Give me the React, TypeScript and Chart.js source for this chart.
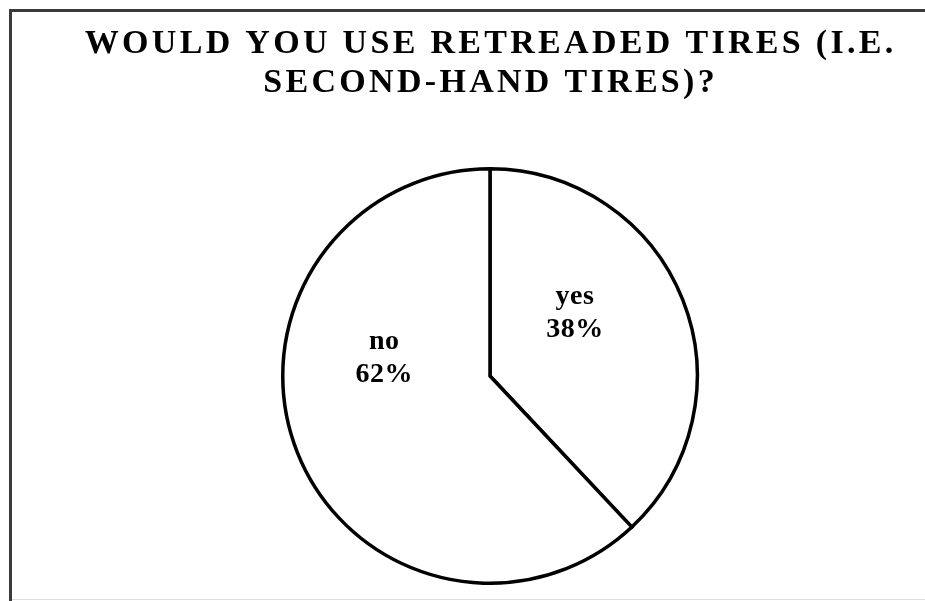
import React, { useEffect, useRef } from "react";
import { Chart, registerables } from "chart.js";

Chart.register(...registerables);

// Survey answers
const categories = ["yes", "no"];
const shares = [38, 62];
const titleLines = ["WOULD YOU USE RETREADED TIRES (I.E.", "SECOND-HAND TIRES)?"];

// Label anchor per slice, as fractions of the pie radius from its centre
const labelAnchors = [
  { dx: 0.41, dy: -0.345 },
  { dx: -0.51, dy: -0.13 },
];

const framePlugin = {
  id: "frame",
  beforeDraw(chart: any) {
    const { ctx, width, height } = chart;
    ctx.save();
    ctx.fillStyle = "#ffffff";
    ctx.fillRect(0, 0, width, height);
    // outer frame: dark top/left rule, faint bottom rule
    ctx.fillStyle = "#3a3a3a";
    ctx.fillRect(9, 9, width - 9, 3);
    ctx.fillRect(9, 9, 3, height - 9);
    ctx.fillStyle = "#dcdcdc";
    ctx.fillRect(12, height - 2, width - 12, 1);
    ctx.restore();
  },
};

const titlePlugin = {
  id: "spacedTitle",
  afterDraw(chart: any) {
    const { ctx } = chart;
    const spacing = 3.3;
    ctx.save();
    ctx.fillStyle = "#000000";
    ctx.font = "bold 34px 'Liberation Serif', 'Times New Roman', serif";
    (ctx as any).letterSpacing = spacing + "px";
    ctx.textAlign = "left";
    ctx.textBaseline = "alphabetic";
    const cx = 489;
    const baselines = [53, 92];
    titleLines.forEach((line, i) => {
      const w = ctx.measureText(line).width - spacing;
      ctx.fillText(line, cx - w / 2, baselines[i]);
    });
    ctx.restore();
  },
};

const sliceLabelPlugin = {
  id: "sliceLabels",
  afterDatasetsDraw(chart: any) {
    const { ctx } = chart;
    const meta = chart.getDatasetMeta(0);
    const values = chart.data.datasets[0].data as number[];
    const total = values.reduce((a, b) => a + b, 0);
    ctx.save();
    ctx.fillStyle = "#000000";
    ctx.font = "bold 28px 'Liberation Serif', 'Times New Roman', serif";
    (ctx as any).letterSpacing = "0.5px";
    ctx.textAlign = "center";
    ctx.textBaseline = "alphabetic";
    meta.data.forEach((arc: any, i: number) => {
      const { x, y, outerRadius } = arc.getProps(["x", "y", "outerRadius"], true);
      const a = labelAnchors[i];
      const lx = x + a.dx * outerRadius;
      const ly = y + a.dy * outerRadius;
      const pct = Math.round((values[i] / total) * 100) + "%";
      ctx.fillText(String(chart.data.labels[i]), lx, ly);
      ctx.fillText(pct, lx, ly + 33);
    });
    ctx.restore();
  },
};

export default function App() {
  const canvasRef = useRef<HTMLCanvasElement | null>(null);

  useEffect(() => {
    document.body.style.margin = "0";
    const canvas = canvasRef.current;
    if (!canvas) return;
    const chart = new Chart(canvas, {
      type: "pie",
      data: {
        labels: categories,
        datasets: [
          {
            data: shares,
            backgroundColor: "#ffffff",
            borderColor: "#000000",
            borderWidth: 3.5,
            borderJoinStyle: "miter",
          } as any,
        ],
      },
      options: {
        responsive: false,
        animation: false,
        devicePixelRatio: 1,
        layout: { padding: { left: 281, right: 226, top: 167, bottom: 16 } },
        plugins: {
          legend: { display: false },
          tooltip: { enabled: false },
          title: { display: false },
        },
      },
      plugins: [framePlugin, titlePlugin, sliceLabelPlugin],
    });
    return () => chart.destroy();
  }, []);

  return (
    <div style={{ position: "fixed", left: 0, top: 0, width: 925, height: 601 }}>
      <canvas ref={canvasRef} width={925} height={601} style={{ display: "block" }} />
    </div>
  );
}
